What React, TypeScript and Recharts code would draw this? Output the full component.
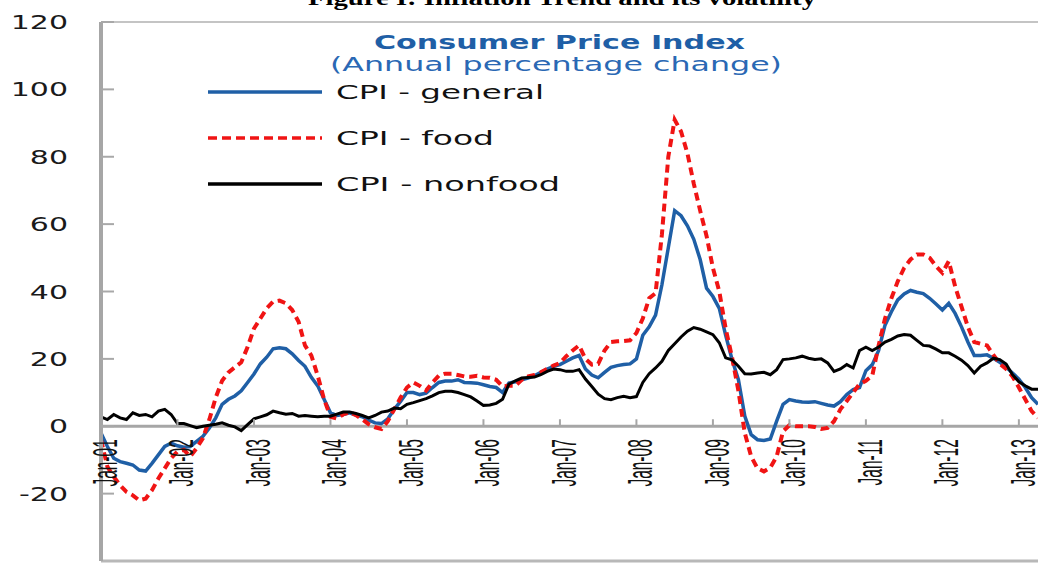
import React from "react";
import { LineChart, Line, XAxis, YAxis, ReferenceLine } from "recharts";

const MONTHS = ["Jan", "Feb", "Mar", "Apr", "May", "Jun", "Jul", "Aug", "Sep", "Oct", "Nov", "Dec"];
const YEARS = ["01", "02", "03", "04", "05", "06", "07", "08", "09", "10", "11", "12", "13"];

// Jan-01 .. Apr-13
const CATEGORIES = YEARS.flatMap((y) => MONTHS.map((m) => `${m}-${y}`)).slice(0, 148);
const JAN_TICKS = YEARS.map((y) => `Jan-${y}`);
const Y_TICKS = [-40, -20, 0, 20, 40, 60, 80, 100, 120];

const CPI_GENERAL = [
  -2, -6, -9.5, -10.5, -11, -11.5, -13, -13.3, -11, -8.5, -6, -5,
  -5.8, -6.2, -6, -4.5, -3, -0.5, 2.5, 6.5, 8, 9, 10.5, 13,
  15.5, 18.5, 20.5, 23, 23.3, 23, 21.5, 19.5, 17.8, 14.5, 12, 8,
  4, 3.2, 3.5, 4, 3.3, 2.8, 1.8, 1, 0.8, 2.2, 5, 7.4,
  10, 10, 9.4, 9.8, 11.5, 13, 13.4, 13.4, 13.8, 13, 12.9, 12.8,
  12.3, 11.8, 11.5, 10, 12.8, 13.2, 13.8, 14.3, 15, 16, 17, 17.8,
  18.3, 19.3, 20.3, 21, 17, 15.2, 14.4, 16, 17.5, 18, 18.3, 18.5,
  20, 27, 29.5, 33, 42, 53, 64, 62.5, 59.5, 55.5, 49.5, 41,
  38.5, 35, 27, 19.8, 13.8, 3, -2.5, -4, -4.2, -3.8, 1.5, 6.5,
  7.9, 7.5, 7.2, 7.1, 7.3, 6.8, 6.3, 6, 7.3, 9.4, 10.9, 11.5,
  16.5, 18.3, 22.5, 30, 34, 37.5, 39.3, 40.3, 39.8, 39.4, 38, 36.3,
  34.5, 36.5, 33.5, 29.5, 25, 21, 21, 21.2, 20.2, 19, 17.5, 15.8,
  14, 11.5, 8.5, 6.5,
];

const CPI_FOOD = [
  -4, -12, -15, -17.5, -19.5, -20.5, -22, -21.5, -19, -15.5, -12.5, -9.5,
  -7.5, -7, -9, -6.5, -3.5, 2, 8.5, 13.5, 16, 17.5, 19, 23.5,
  29, 32, 35, 37, 37.3, 36.5, 34.5, 31, 24, 21, 15, 8,
  2.8, 2.3, 3.5, 4.2, 3.3, 2, 0.6, -0.3, -0.8, 1.5, 5, 8.5,
  11.5, 13, 12, 10.6, 13, 15, 15.6, 15.6, 15.2, 14.8, 14.7, 15,
  14.5, 14.4, 13.8, 11.8, 12, 12, 13.8, 14.8, 15.2, 16, 17, 18,
  18.8, 20.8, 22.5, 24, 20, 18.3, 18.5, 22.5, 25, 25.2, 25.3, 25.5,
  27.7, 32, 38, 39.5, 57, 80, 91, 87.5, 81, 72, 64, 56.5,
  47, 40, 29, 20.5, 10.5, -2, -9, -12.5, -13.4, -12.3, -9, -1.5,
  0.3, 0, 0, 0, -0.2, -0.8, -0.5, 1.5, 5, 7.5, 10, 12.5,
  13.5, 15, 24, 32, 38, 43, 47, 49.5, 51, 51, 50, 47.5,
  45.5, 49, 41.5, 35.5, 29.5, 25, 24.5, 24, 21.2, 18.5, 17, 14.8,
  11.5, 8, 4.5, 2.5,
];

const CPI_NONFOOD = [
  2.8, 2, 3.5, 2.5, 2, 4, 3.2, 3.5, 2.8, 4.5, 5, 3.5,
  0.8, 0.8, 0.2, -0.4, 0, 0.3, 0.6, 1, 0.3, -0.2, -1.3, 0.5,
  2.2, 2.8, 3.4, 4.5, 4, 3.6, 3.8, 3, 3.2, 3, 2.8, 3,
  3, 3.6, 4.2, 4.2, 3.8, 3.2, 2.5, 3.2, 4.2, 4.5, 5.4, 5.2,
  6.5, 7, 7.6, 8.2, 9, 10, 10.4, 10.4, 10, 9.4, 8.7, 7.5,
  6.2, 6.3, 6.8, 8, 12.5, 13.5, 14.3, 14.5, 14.6, 15.3, 16.3, 17,
  16.8, 16.3, 16.3, 16.8, 14, 11.8, 9.5, 8.2, 7.9, 8.5, 8.9, 8.5,
  8.8, 13, 15.6, 17.3, 19.3, 22.5, 24.5, 26.5, 28.2, 29.3, 28.8, 28,
  27.2, 24.8, 20.3, 19.7, 17.8, 15.6, 15.5, 15.8, 16, 15.3, 16.8, 19.8,
  20, 20.3, 20.8, 20.2, 19.8, 20, 18.8, 16.3, 17, 18.3, 17.3, 22.5,
  23.5, 22.5, 23.5, 25, 25.8, 26.8, 27.2, 27, 25.5, 24, 23.8, 22.9,
  21.8, 21.8, 20.8, 19.6, 18, 15.8, 17.8, 18.8, 20.2, 19.8, 18.5, 15.3,
  13.2, 12, 11, 11,
];

const data = CATEGORIES.map((m, i) => ({
  m,
  general: CPI_GENERAL[i],
  food: CPI_FOOD[i],
  nonfood: CPI_NONFOOD[i],
}));

const W = 1038;
const H = 569;
const X_AXIS_H = 1;
const MARGIN = { top: 22, right: 0, bottom: 7, left: 0 };
const Y_MIN = -40;
const Y_MAX = 120;
const PLOT_H = H - MARGIN.top - MARGIN.bottom - X_AXIS_H;
const ZERO_Y = MARGIN.top + (PLOT_H * Y_MAX) / (Y_MAX - Y_MIN);

const AXIS_GRAY = "#a6a6a6";
const BLUE = "#1f5fa6";
const RED = "#f01414";

function XTick(props: any) {
  const { x, payload } = props;
  return (
    <g>
      <line x1={x} x2={x} y1={ZERO_Y} y2={ZERO_Y - 7} stroke={AXIS_GRAY} strokeWidth={2} />
      <text
        transform={`translate(${x + 16},${ZERO_Y + 13}) scale(2.3,1) rotate(-90)`}
        textAnchor="end"
        fontSize={15.5}
        fontFamily="Liberation Sans, Arial, sans-serif"
        fill="#111"
      >
        {payload.value}
      </text>
    </g>
  );
}

function YTick(props: any) {
  const { x, y, payload } = props;
  return (
    <g>
      <line x1={x} x2={x + 13} y1={y} y2={y} stroke="#a8a8a8" strokeWidth={2} />
      <text
        transform={`translate(${x - 33},${y}) scale(1.5,1)`}
        textAnchor="end"
        dominantBaseline="central"
        fontSize={20}
        fontFamily="DejaVu Sans, sans-serif"
        fill="#1a1a1a"
      >
        {payload.value}
      </text>
    </g>
  );
}

const LEGEND = [
  { label: "CPI - general", color: BLUE, dash: undefined, y: 92, len: 208 },
  { label: "CPI - food", color: RED, dash: "9 5", y: 138, len: 158 },
  { label: "CPI - nonfood", color: "#000", dash: undefined, y: 184, len: 224 },
];

export default function App() {
  return (
    <div style={{ position: "absolute", left: 0, top: 0, width: W, height: H, background: "#fff" }}>
      <LineChart width={W} height={H} data={data} margin={MARGIN}>
        <XAxis
          dataKey="m"
          ticks={JAN_TICKS}
          interval={0}
          tick={<XTick />}
          tickLine={false}
          axisLine={false}
          height={X_AXIS_H}
          tickSize={0}
          tickMargin={0}
        />
        <YAxis
          domain={[Y_MIN, Y_MAX]}
          ticks={Y_TICKS}
          width={101}
          tick={<YTick />}
          tickLine={false}
          tickSize={0}
          tickMargin={0}
          axisLine={{ stroke: AXIS_GRAY, strokeWidth: 4 }}
          allowDataOverflow
        />
        <ReferenceLine y={Y_MAX} stroke="#c4c4c4" strokeWidth={2} />
        <ReferenceLine y={Y_MIN} stroke="#b8b8b8" strokeWidth={3} />
        <ReferenceLine y={0} stroke={AXIS_GRAY} strokeWidth={3} />
        <ReferenceLine x={CATEGORIES[0]} stroke={AXIS_GRAY} strokeWidth={4} />
        <Line
          type="linear"
          dataKey="general"
          stroke={BLUE}
          strokeWidth={3.5}
          dot={false}
          isAnimationActive={false}
        />
        <Line
          type="linear"
          dataKey="food"
          stroke={RED}
          strokeWidth={4}
          strokeDasharray="8 5"
          dot={false}
          isAnimationActive={false}
        />
        <Line
          type="linear"
          dataKey="nonfood"
          stroke="#000"
          strokeWidth={3}
          dot={false}
          isAnimationActive={false}
        />
      </LineChart>
      <svg
        width={W}
        height={H}
        style={{ position: "absolute", left: 0, top: 0, pointerEvents: "none" }}
      >
        <text
          x={308}
          y={5}
          textLength={508}
          lengthAdjust="spacingAndGlyphs"
          fontSize={22}
          fontWeight="bold"
          fontFamily="Liberation Serif, Times New Roman, serif"
          fill="#000"
        >
          Figure I: Inflation Trend and its volatility
        </text>
        <text
          x={374}
          y={42}
          dominantBaseline="central"
          textLength={371}
          lengthAdjust="spacingAndGlyphs"
          fontSize={20}
          fontWeight="bold"
          fontFamily="DejaVu Sans, sans-serif"
          fill="#1f5fa6"
        >
          Consumer Price Index
        </text>
        <text
          x={330}
          y={64}
          dominantBaseline="central"
          textLength={452}
          lengthAdjust="spacingAndGlyphs"
          fontSize={20}
          fontFamily="DejaVu Sans, sans-serif"
          fill="#2a68b4"
        >
          (Annual percentage change)
        </text>
        {LEGEND.map((l) => (
          <g key={l.label}>
            <line
              x1={208}
              x2={322}
              y1={l.y}
              y2={l.y}
              stroke={l.color}
              strokeWidth={3.5}
              strokeDasharray={l.dash}
            />
            <text
              x={336}
              y={l.y}
              dominantBaseline="central"
              textLength={l.len}
              lengthAdjust="spacingAndGlyphs"
              fontSize={20}
              fontFamily="DejaVu Sans, sans-serif"
              fill="#111"
            >
              {l.label}
            </text>
          </g>
        ))}
      </svg>
    </div>
  );
}
